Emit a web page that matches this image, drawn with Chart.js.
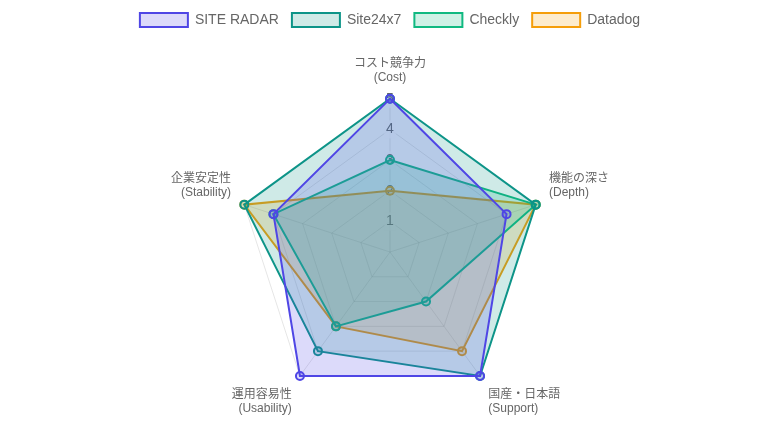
<!DOCTYPE html>
<html lang="ja">
<head>
<meta charset="utf-8">
<title>競合比較レーダー</title>
<script src="https://cdn.jsdelivr.net/npm/chart.js@4/dist/chart.umd.min.js"></script>
<style>
    html, body { margin: 0; padding: 0; background: #fff; }
    #wrap { width: 780px; height: 432px; }
</style>
</head>
<body>
<div id="wrap"><canvas id="radarChart" width="780" height="432"></canvas></div>
<script>
// 評価軸
const axisLabels = [
    ['コスト競争力', '(Cost)'],
    ['機能の深さ', '(Depth)'],
    ['国産・日本語', '(Support)'],
    ['運用容易性', '(Usability)'],
    ['企業安定性', '(Stability)']
];

// 各サービスのスコア (0-5)
const siteRadarScores = [5, 4, 5, 5, 4];
const site24x7Scores = [5, 5, 5, 4, 5];
const checklyScores = [3, 5, 2, 3, 4];
const datadogScores = [2, 5, 4, 3, 5];

const scoreMin = 0;
const scoreMax = 5;

function makeDataset(label, data, rgb) {
    return {
        label: label,
        data: data,
        borderColor: `rgb(${rgb})`,
        backgroundColor: `rgba(${rgb}, 0.2)`,
        borderWidth: 2,
        pointRadius: 4,
        pointBorderWidth: 2
    };
}

// 凡例の下に少し余白を足す
const legendMargin = {
    id: 'legendMargin',
    beforeInit(chart) {
        const fit = chart.legend.fit;
        chart.legend.fit = function () {
            fit.bind(chart.legend)();
            this.height += 3;
        };
    }
};

const ctx = document.getElementById('radarChart').getContext('2d');
const chart = new Chart(ctx, {
    type: 'radar',
    data: {
        labels: axisLabels,
        datasets: [
            makeDataset('SITE RADAR', siteRadarScores, '79, 70, 229'),
            makeDataset('Site24x7', site24x7Scores, '13, 148, 136'),
            makeDataset('Checkly', checklyScores, '16, 185, 129'),
            makeDataset('Datadog', datadogScores, '245, 158, 11')
        ]
    },
    options: {
        responsive: false,
        animation: false,
        plugins: {
            legend: {
                position: 'top',
                labels: {
                    boxWidth: 48,
                    boxHeight: 14,
                    padding: 13,
                    color: '#666',
                    font: { size: 14, family: 'Liberation Sans, Arial, sans-serif' }
                }
            }
        },
        scales: {
            r: {
                min: scoreMin,
                max: scoreMax,
                ticks: {
                    stepSize: 1,
                    color: '#666',
                    font: { size: 14 }
                },
                pointLabels: {
                    color: '#666',
                    font: { size: 12, family: 'Liberation Sans, Noto Sans CJK JP, sans-serif' }
                },
                grid: { color: 'rgba(0, 0, 0, 0.1)' },
                angleLines: { color: 'rgba(0, 0, 0, 0.1)' }
            }
        }
    },
    plugins: [legendMargin]
});
</script>
</body>
</html>
